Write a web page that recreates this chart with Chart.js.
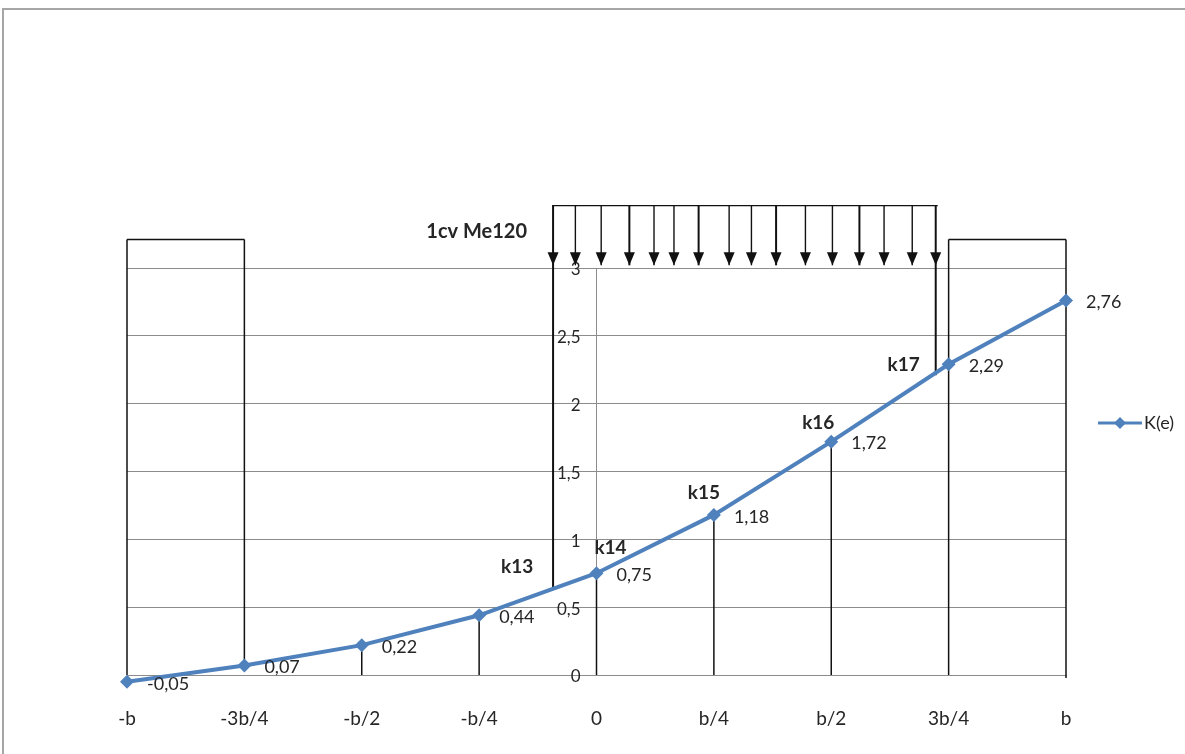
<!DOCTYPE html>
<html>
<head>
<meta charset="utf-8">
<title>K(e)</title>
<script src="https://cdn.jsdelivr.net/npm/chart.js@4/dist/chart.umd.min.js"></script>
<style>
  body { margin: 0; background: #fff; }
  canvas { display: block; }
</style>
</head>
<body>
<canvas id="keChart" width="1185" height="754"></canvas>
<script>
// positions across the deck, in quarters of b
const positions = [-4, -3, -2, -1, 0, 1, 2, 3, 4];
const positionLabels = ['-b', '-3b/4', '-b/2', '-b/4', '0', 'b/4', 'b/2', '3b/4', 'b'];
const kValues = [-0.05, 0.07, 0.22, 0.44, 0.75, 1.18, 1.72, 2.29, 2.76];

// beams and the point each one sits on
const beamNames = ['k13', 'k14', 'k15', 'k16', 'k17'];
const beamIndex = [3, 4, 5, 6, 7];
const beamNameOffsets = [[38, -48], [14, -25], [-10, -22], [-13, -19], [-45, 1]];

// vehicle load (1cv Me120): arrow positions in quarters of b
const loadArrows = [-0.37, -0.18, 0.04, 0.28, 0.49, 0.66, 0.87, 1.13, 1.32, 1.53, 1.78, 2.01, 2.24, 2.45, 2.69, 2.89];
const loadTop = 3.46;
const loadTip = 3.02;
const loadLeftEnd = 0.63;
const loadRightEnd = 2.21;
const supportTop = 3.21;

const blue = '#4f81bd';
const gridGray = '#8c8c8c';
const textColor = '#262626';
const font = 'Lato, "Open Sans", sans-serif';

const fmt = v => String(Math.round(v * 100) / 100).replace('.', ',');

function diamond(ctx, x, y, r) {
  ctx.beginPath();
  ctx.moveTo(x, y - r);
  ctx.lineTo(x + r, y);
  ctx.lineTo(x, y + r);
  ctx.lineTo(x - r, y);
  ctx.closePath();
  ctx.fill();
}

const overlay = {
  id: 'overlay',
  beforeDraw(chart) {
    const ctx = chart.ctx;
    ctx.save();
    ctx.fillStyle = '#fff';
    ctx.fillRect(0, 0, chart.width, chart.height);
    ctx.strokeStyle = '#a6a6a6';
    ctx.lineWidth = 2;
    ctx.strokeRect(3, 9, chart.width + 20, chart.height + 20);
    ctx.restore();
  },
  beforeDatasetsDraw(chart) {
    const { ctx, scales: { x, y } } = chart;
    const px = i => x.getPixelForValue(positions[i]);
    const py = v => y.getPixelForValue(v);
    const line = (x1, y1, x2, y2) => {
      ctx.beginPath();
      ctx.moveTo(x1, y1);
      ctx.lineTo(x2, y2);
      ctx.stroke();
    };
    ctx.save();

    // y tick labels, to the left of the axis at x = 0
    const axisX = x.getPixelForValue(0);
    ctx.fillStyle = textColor;
    ctx.font = '17px ' + font;
    ctx.textAlign = 'right';
    ctx.textBaseline = 'middle';
    y.ticks.forEach(t => {
      ctx.fillText(fmt(t.value), axisX - 16, y.getPixelForValue(t.value) + 2);
    });

    ctx.strokeStyle = '#111';
    ctx.lineWidth = 1.5;

    // supports at the edges
    const last = positions.length - 1;
    line(px(0), py(supportTop), px(1), py(supportTop));
    line(px(0), py(supportTop), px(0), py(0));
    line(px(1), py(supportTop), px(1), py(kValues[1]));
    line(px(last - 1), py(supportTop), px(last), py(supportTop));
    line(px(last - 1), py(supportTop), px(last - 1), py(0));
    line(px(last), py(supportTop), px(last), py(0) + 3);

    // ordinates under the inner points
    for (let i = 2; i < last - 1; i++) {
      line(px(i), py(kValues[i]), px(i), py(0));
    }

    // vehicle load
    const ax = v => x.getPixelForValue(v);
    ctx.lineWidth = 1.3;
    line(ax(loadArrows[0]) - 1, py(loadTop), ax(loadArrows[loadArrows.length - 1]) + 2, py(loadTop));
    loadArrows.forEach((a, i) => {
      const xa = ax(a);
      let end = loadTip;
      if (i === 0) end = loadLeftEnd;
      if (i === loadArrows.length - 1) end = loadRightEnd;
      ctx.lineWidth = i % 3 === 0 ? 2 : 1.4;
      line(xa, py(loadTop), xa, py(end));
      const tip = py(loadTip);
      ctx.beginPath();
      ctx.moveTo(xa, tip);
      ctx.lineTo(xa - 5.5, tip - 13);
      ctx.lineTo(xa + 5.5, tip - 13);
      ctx.closePath();
      ctx.fillStyle = '#111';
      ctx.fill();
    });
    ctx.restore();
  },
  afterDatasetsDraw(chart) {
    const { ctx } = chart;
    const meta = chart.getDatasetMeta(0);
    const ds = chart.data.datasets[0];
    ctx.save();

    // markers (drawn here so the point below zero is kept too)
    ctx.fillStyle = ds.borderColor;
    meta.data.forEach(pt => diamond(ctx, pt.x, pt.y, 7));

    ctx.fillStyle = textColor;
    ctx.textBaseline = 'middle';

    // value labels
    ctx.font = '18px ' + font;
    ctx.textAlign = 'left';
    meta.data.forEach((pt, i) => {
      ctx.fillText(fmt(kValues[i]), pt.x + 20, pt.y + 2);
    });

    // beam names
    ctx.font = 'bold 19px ' + font;
    ctx.textAlign = 'center';
    beamNames.forEach((name, j) => {
      const pt = meta.data[beamIndex[j]];
      const [dx, dy] = beamNameOffsets[j];
      ctx.fillText(name, pt.x + dx, pt.y + dy);
    });

    // load caption
    const x = chart.scales.x;
    ctx.font = 'bold 20px ' + font;
    ctx.textAlign = 'right';
    ctx.fillText('1cv Me120', x.getPixelForValue(loadArrows[0]) - 26, 232);

    // legend
    const ly = 423;
    ctx.strokeStyle = ds.borderColor;
    ctx.lineWidth = 3;
    ctx.beginPath();
    ctx.moveTo(1098, ly);
    ctx.lineTo(1142, ly);
    ctx.stroke();
    ctx.fillStyle = ds.borderColor;
    diamond(ctx, 1120, ly, 6);
    ctx.fillStyle = textColor;
    ctx.font = '18px ' + font;
    ctx.textAlign = 'left';
    ctx.fillText(ds.label, 1144, ly);
    ctx.restore();
  }
};

const ctx = document.getElementById('keChart').getContext('2d');

const keChart = new Chart(ctx, {
  type: 'scatter',
  data: {
    datasets: [{
      label: 'K(e)',
      data: positions.map((p, i) => ({ x: p, y: kValues[i] })),
      showLine: true,
      borderColor: blue,
      backgroundColor: blue,
      borderWidth: 4,
      pointRadius: 0,
      clip: false
    }]
  },
  options: {
    responsive: false,
    animation: false,
    layout: { padding: { left: 127, right: 119, top: 268, bottom: 0 } },
    plugins: {
      legend: { display: false },
      tooltip: { enabled: false }
    },
    scales: {
      x: {
        type: 'linear',
        min: -4,
        max: 4,
        grid: { display: false },
        border: { display: true, color: gridGray, width: 1 },
        ticks: {
          stepSize: 1,
          padding: 24,
          color: textColor,
          font: { family: font, size: 19 },
          maxRotation: 0,
          autoSkip: false,
          callback: v => positionLabels[positions.indexOf(v)]
        },
        afterFit(scale) { scale.height = 79; }
      },
      y: {
        position: { x: 0 },
        min: 0,
        max: 3,
        grid: { color: gridGray, drawTicks: false },
        border: { display: true, color: gridGray, width: 1 },
        ticks: {
          display: false,
          stepSize: 0.5
        }
      }
    }
  },
  plugins: [overlay]
});
</script>
</body>
</html>
